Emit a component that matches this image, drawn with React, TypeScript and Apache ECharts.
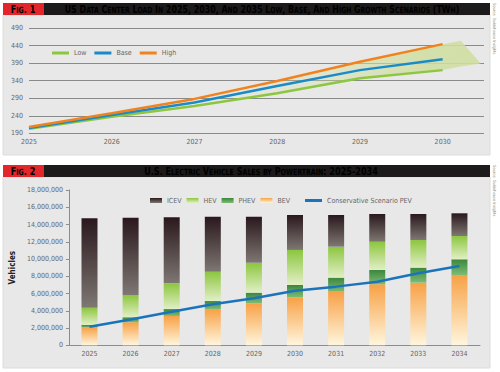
import React, { useEffect, useRef } from "react";
import * as echarts from "echarts";

// ---------- Fig. 1 data (TWh) ----------
const loadYears = [2025, 2026, 2027, 2028, 2029, 2030];
const lowLoad = [203, 237, 268, 304, 347, 370];
const baseLoad = [205, 242, 278, 325, 370, 401];
const highLoad = [208, 247, 288, 339, 394, 444];
// projection band (between low and high, cone past 2030)
const bandYears = [2027, 2028, 2029, 2030, 2030.22, 2030.46];
const bandLow = [268, 304, 347, 370, 380, 389];
const bandHigh = [288, 339, 394, 444, 454, 389];
const loadAxisMin = 190;
const loadAxisMax = 490;
const loadAxisStep = 50;

// ---------- Fig. 2 data (vehicles) ----------
const evYears = ["2025", "2026", "2027", "2028", "2029", "2030", "2031", "2032", "2033", "2034"];
const bevSales = [2050000, 2670000, 3400000, 4200000, 4870000, 5560000, 6210000, 7070000, 7260000, 8150000];
const phevSales = [300000, 580000, 800000, 930000, 1230000, 1430000, 1630000, 1660000, 1740000, 1820000];
const hevSales = [2000000, 2580000, 2980000, 3400000, 3470000, 4060000, 3590000, 3270000, 3200000, 2700000];
const icevSales = [10370000, 8960000, 7650000, 6370000, 5330000, 4050000, 3670000, 3220000, 3020000, 2630000];
const conservativePev = [2160000, 3000000, 3900000, 4750000, 5450000, 6330000, 6800000, 7370000, 8340000, 9190000];
const evAxisMax = 18000000;
const evAxisStep = 2000000;

const FONT = '"Liberation Sans Narrow", "DejaVu Sans Condensed", sans-serif';
const TITLE_FONT = '"DejaVu Sans Condensed", "Liberation Sans", sans-serif';

function smallCaps(s: string) {
  let out = "";
  let cur = "";
  let curStyle = "";
  for (const ch of s) {
    const isLower = ch >= "a" && ch <= "z";
    const st = isLower ? "s" : "L";
    const c = isLower ? ch.toUpperCase() : ch;
    if (st !== curStyle && cur) {
      out += `{${curStyle}|${cur}}`;
      cur = "";
    }
    curStyle = st;
    cur += c;
  }
  if (cur) out += `{${curStyle}|${cur}}`;
  return out;
}

const titleRich = (big: number, small: number) => ({
  L: { fontSize: big, fontWeight: "bold", fontFamily: TITLE_FONT, color: "#ffffff", verticalAlign: "bottom" },
  s: { fontSize: small, fontWeight: "bold", fontFamily: TITLE_FONT, color: "#ffffff", verticalAlign: "bottom" },
});

const vGrad = (top: string, bottom: string) => ({
  type: "linear",
  x: 0,
  y: 0,
  x2: 0,
  y2: 1,
  colorStops: [
    { offset: 0, color: top },
    { offset: 1, color: bottom },
  ],
});

function titleBar(y: number, fig: string, title: string, cx: number, sx: number) {
  return [
    { type: "rect", z: 10, shape: { x: 44, y, width: 446, height: 12 }, style: { fill: "#1c1a1b" } },
    { type: "rect", z: 11, shape: { x: 3, y, width: 41, height: 12 }, style: { fill: "#e2262b" } },
    {
      type: "text",
      z: 12,
      x: 23,
      y: y + 6.5,
      scaleX: 0.82,
      style: { x: 0, y: 0, text: smallCaps(fig), rich: titleRich(11, 8.5), align: "center", verticalAlign: "middle" },
    },
    {
      type: "text",
      z: 12,
      x: cx,
      y: y + 6.5,
      scaleX: sx,
      style: { x: 0, y: 0, text: smallCaps(title), rich: titleRich(11, 8.5), align: "center", verticalAlign: "middle" },
    },
  ];
}

export default function App() {
  const ref = useRef<HTMLDivElement>(null);
  useEffect(() => {
    document.body.style.margin = "0";
    if (!ref.current) return;
    const chart = echarts.init(ref.current, undefined, { renderer: "svg" });
    const zip = (xs: number[], ys: number[]) => xs.map((x, i) => [x, ys[i]]);
    const axisText = { color: "#666", fontSize: 7, fontFamily: FONT };
    const legendText = { color: "#666", fontSize: 7, fontFamily: FONT };

    const bandFill = {
      type: "linear",
      x: 0,
      y: 0,
      x2: 1,
      y2: 0,
      colorStops: [
        { offset: 0, color: "rgba(208,222,160,0)" },
        { offset: 0.45, color: "rgba(208,222,160,0.35)" },
        { offset: 0.8, color: "rgba(208,222,160,0.85)" },
        { offset: 1, color: "rgba(208,222,160,0.9)" },
      ],
    };

    const option: any = {
      animation: false,
      backgroundColor: "#ffffff",
      textStyle: { fontFamily: FONT },
      graphic: [
        { type: "rect", z: -10, shape: { x: 3, y: 15, width: 487, height: 140 }, style: { fill: "#e8e8e8", stroke: "#dcdcdc" } },
        { type: "rect", z: -10, shape: { x: 3, y: 177, width: 487, height: 191 }, style: { fill: "#e8e8e8", stroke: "#dcdcdc" } },
        ...titleBar(3, "Fig. 1", "US Data Center Load In 2025, 2030, And 2035 Low, Base, And High Growth Scenarios (TWh)", 262, 0.8),
        ...titleBar(165, "Fig. 2", "U.S. Electric Vehicle Sales by Powertrain: 2025-2034", 261, 0.82),
        {
          type: "text",
          z: 12,
          rotation: -Math.PI / 2,
          x: 494,
          y: 3,
          style: { text: "Source: Guidehouse Insights", fontSize: 4, fill: "#888", fontFamily: FONT, align: "left", verticalAlign: "middle" },
        },
        {
          type: "text",
          z: 12,
          rotation: -Math.PI / 2,
          x: 494,
          y: 165,
          style: { text: "Source: Guidehouse Insights", fontSize: 4, fill: "#888", fontFamily: FONT, align: "left", verticalAlign: "middle" },
        },
      ],
      legend: [
        {
          data: ["Low", "Base", "High"],
          left: 52,
          top: 49.5,
          padding: 0,
          icon: "rect",
          itemWidth: 17,
          itemHeight: 3,
          itemGap: 8,
          textStyle: legendText,
        },
        {
          data: ["ICEV", "HEV", "PHEV", "BEV"],
          left: 150,
          top: 197,
          padding: 0,
          icon: "rect",
          itemWidth: 12,
          itemHeight: 5,
          itemGap: 5,
          textStyle: legendText,
        },
        {
          data: ["Conservative Scenario PEV"],
          left: 305,
          top: 197,
          padding: 0,
          icon: "rect",
          itemWidth: 17,
          itemHeight: 3,
          textStyle: legendText,
        },
      ],
      grid: [
        { left: 29, right: 16, top: 28, bottom: 238.7 },
        { left: 67, right: 20, top: 190, bottom: 26.7 },
      ],
      xAxis: [
        {
          type: "value",
          gridIndex: 0,
          min: loadYears[0],
          max: 2030.5,
          interval: 1,
          axisLine: { show: false },
          axisTick: { show: false },
          splitLine: { show: false },
          axisLabel: {
            ...axisText,
            margin: 5,
            formatter: (v: number) => (Number.isInteger(v) ? String(v) : ""),
          },
        },
        {
          type: "category",
          gridIndex: 1,
          data: evYears,
          axisLine: { lineStyle: { color: "#8c8c8c" } },
          axisTick: { show: false },
          axisLabel: { ...axisText, margin: 5 },
        },
      ],
      yAxis: [
        {
          type: "value",
          gridIndex: 0,
          min: loadAxisMin,
          max: loadAxisMax,
          interval: loadAxisStep,
          axisLine: { show: false },
          axisTick: { show: false },
          splitLine: { lineStyle: { color: "#8a8a8a", width: 1 } },
          axisLabel: { ...axisText, margin: 6 },
        },
        {
          type: "value",
          gridIndex: 1,
          min: 0,
          max: evAxisMax,
          interval: evAxisStep,
          name: "Vehicles",
          nameLocation: "middle",
          nameGap: 50,
          nameTextStyle: { color: "#222", fontSize: 8, fontWeight: "bold", fontFamily: FONT },
          axisLine: { show: true, lineStyle: { color: "#8c8c8c" } },
          axisTick: { show: true, length: 3, lineStyle: { color: "#8c8c8c" } },
          splitLine: { show: false },
          axisLabel: { ...axisText, margin: 6, formatter: (v: number) => v.toLocaleString("en-US") },
        },
      ],
      series: [
        {
          name: "band",
          type: "custom",
          xAxisIndex: 0,
          yAxisIndex: 0,
          silent: true,
          z: 1,
          data: bandYears.map((x, i) => [x, bandLow[i], bandHigh[i]]),
          encode: { x: 0, y: [1, 2] },
          renderItem: (params: any, api: any) => {
            if (params.dataIndex !== 0) return null;
            const upper = bandYears.map((x, i) => api.coord([x, bandHigh[i]]));
            const lower = bandYears.map((x, i) => api.coord([x, bandLow[i]])).reverse();
            return {
              type: "polygon",
              shape: { points: upper.concat(lower) },
              style: { fill: bandFill },
              silent: true,
            };
          },
        },
        {
          name: "Low",
          type: "line",
          xAxisIndex: 0,
          yAxisIndex: 0,
          data: zip(loadYears, lowLoad),
          symbol: "none",
          color: "#8dc63f",
          lineStyle: { width: 2.5, color: "#8dc63f" },
        },
        {
          name: "Base",
          type: "line",
          xAxisIndex: 0,
          yAxisIndex: 0,
          data: zip(loadYears, baseLoad),
          symbol: "none",
          color: "#1a8bc8",
          lineStyle: { width: 2.5, color: "#1a8bc8" },
        },
        {
          name: "High",
          type: "line",
          xAxisIndex: 0,
          yAxisIndex: 0,
          data: zip(loadYears, highLoad),
          symbol: "none",
          color: "#f0831f",
          lineStyle: { width: 2.5, color: "#f0831f" },
        },
        {
          name: "BEV",
          type: "bar",
          xAxisIndex: 1,
          yAxisIndex: 1,
          stack: "ev",
          barWidth: 16,
          data: bevSales,
          itemStyle: { color: vGrad("#f7a145", "#fff6de") },
        },
        {
          name: "PHEV",
          type: "bar",
          xAxisIndex: 1,
          yAxisIndex: 1,
          stack: "ev",
          barWidth: 16,
          data: phevSales,
          itemStyle: { color: vGrad("#3b873d", "#7dbb73") },
        },
        {
          name: "HEV",
          type: "bar",
          xAxisIndex: 1,
          yAxisIndex: 1,
          stack: "ev",
          barWidth: 16,
          data: hevSales,
          itemStyle: { color: vGrad("#8cc63f", "#e2efc6") },
        },
        {
          name: "ICEV",
          type: "bar",
          xAxisIndex: 1,
          yAxisIndex: 1,
          stack: "ev",
          barWidth: 16,
          data: icevSales,
          itemStyle: { color: vGrad("#2a181d", "#7e7772") },
        },
        {
          name: "Conservative Scenario PEV",
          type: "line",
          xAxisIndex: 1,
          yAxisIndex: 1,
          data: conservativePev,
          symbol: "none",
          color: "#1b74bb",
          lineStyle: { width: 2.5, color: "#1b74bb" },
          z: 5,
        },
      ],
    };
    chart.setOption(option);
    return () => chart.dispose();
  }, []);
  return <div ref={ref} style={{ width: 500, height: 372 }} />;
}
